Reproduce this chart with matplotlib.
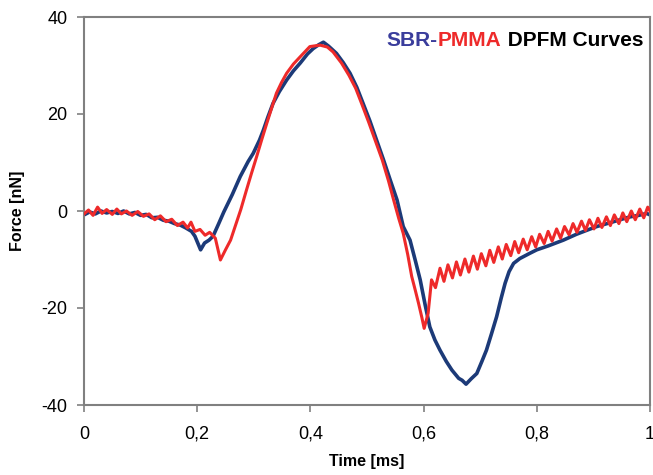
import matplotlib
matplotlib.use("Agg")
import matplotlib.pyplot as plt
from matplotlib.offsetbox import TextArea, HPacker, AnchoredOffsetbox

plt.rcParams['font.family'] = ['Liberation Sans', 'DejaVu Sans']

# SBR (blue) curve: time [ms], force [nN]
sbr_t = [0.000, 0.010, 0.020, 0.030, 0.040, 0.050, 0.060, 0.070, 0.080, 0.090,
         0.100, 0.110, 0.120, 0.130, 0.140, 0.150, 0.160, 0.170, 0.180, 0.190,
         0.196, 0.206, 0.213, 0.221, 0.228, 0.238, 0.247, 0.262, 0.276, 0.290,
         0.299, 0.310, 0.317, 0.325, 0.334, 0.345, 0.358, 0.370, 0.382, 0.395,
         0.405, 0.415, 0.423, 0.432, 0.446, 0.458, 0.470, 0.482, 0.493, 0.505,
         0.517, 0.529, 0.541, 0.553, 0.564, 0.576, 0.586, 0.594, 0.603, 0.611,
         0.620, 0.629, 0.640, 0.650, 0.662, 0.668, 0.675, 0.684, 0.694, 0.703,
         0.711, 0.720, 0.729, 0.737, 0.744, 0.751, 0.759, 0.770, 0.788, 0.800,
         0.820, 0.847, 0.870, 0.890, 0.906, 0.930, 0.950, 0.965, 0.980, 0.994,
         1.000]
sbr_f = [-0.8, -0.2, -0.6, 0.0, -0.4, -0.1, -0.5, 0.0, -0.6, -0.3,
         -0.9, -0.7, -1.4, -1.3, -1.9, -2.1, -2.6, -2.9, -3.5, -4.2,
         -5.2, -8.0, -6.6, -6.0, -5.2, -2.6, -0.2, 3.4, 7.1, 10.2,
         11.9, 14.6, 16.7, 19.4, 22.2, 24.6, 27.0, 28.9, 30.5, 32.4,
         33.5, 34.3, 34.8, 34.0, 32.5, 30.6, 28.4, 25.5, 22.2, 18.6,
         14.6, 10.6, 6.4, 2.3, -3.2, -6.0, -10.5, -14.2, -19.5, -23.9,
         -26.6, -28.7, -31.0, -32.8, -34.5, -34.9, -35.7, -34.6, -33.5, -31.0,
         -28.7, -25.3, -21.8, -18.0, -14.9, -12.5, -10.8, -9.8, -8.7, -8.0,
         -7.2, -6.0, -4.8, -3.9, -3.2, -2.4, -1.7, -1.2, -0.9, -0.5,
         -0.8]

# PMMA (red) curve: time [ms], force [nN]
pmma_t = [0.000, 0.008, 0.016, 0.024, 0.032, 0.040, 0.050, 0.058, 0.066, 0.075,
          0.085, 0.095, 0.105, 0.115, 0.125, 0.135, 0.145, 0.155, 0.165, 0.175,
          0.183, 0.189, 0.196, 0.205, 0.214, 0.222, 0.232, 0.241, 0.250, 0.259,
          0.267, 0.277, 0.287, 0.296, 0.305, 0.314, 0.323, 0.332, 0.340, 0.349,
          0.358, 0.370, 0.382, 0.399, 0.417, 0.430, 0.440, 0.455, 0.468, 0.480,
          0.491, 0.503, 0.515, 0.527, 0.538, 0.547, 0.556, 0.564, 0.572, 0.579,
          0.585, 0.591, 0.597, 0.601, 0.608, 0.614, 0.621,
          0.629, 0.636, 0.643, 0.651, 0.658, 0.665, 0.673, 0.680, 0.688, 0.695,
          0.702, 0.710, 0.717, 0.724, 0.732, 0.739, 0.746, 0.754, 0.761, 0.768,
          0.776, 0.783, 0.791, 0.798, 0.805, 0.813, 0.820, 0.827, 0.835, 0.842,
          0.849, 0.857, 0.864, 0.871, 0.879, 0.886, 0.893, 0.901, 0.908, 0.915,
          0.923, 0.930, 0.937, 0.945, 0.952, 0.959, 0.967, 0.974, 0.982, 0.989,
          0.996, 1.000]
pmma_f = [-0.6, 0.2, -0.9, 0.8, -0.5, 0.3, -0.7, 0.4, -0.6, 0.0,
          -0.9, -0.1, -1.1, -0.6, -1.8, -1.0, -2.2, -1.7, -3.0, -2.3,
          -3.5, -2.3, -4.2, -3.8, -5.0, -4.4, -5.6, -10.1, -8.0, -6.0,
          -3.2, 0.3, 4.3, 7.8, 11.2, 14.7, 18.1, 21.4, 24.3, 26.5,
          28.4, 30.3, 31.8, 33.9, 34.2, 33.8, 32.8, 30.5, 28.0, 25.3,
          22.0, 18.3, 14.4, 10.5, 6.2, 2.3, -1.5, -4.6, -9.0, -13.5,
          -16.2, -19.0, -22.0, -24.2, -21.1, -14.2, -15.8,
          -11.8, -14.5, -11.1, -13.8, -10.5, -13.2, -9.9, -12.6, -9.3, -12.0,
          -8.8, -11.3, -8.1, -10.6, -7.4, -9.9, -6.9, -9.2, -6.3, -8.6,
          -5.8, -8.0, -5.3, -7.4, -4.8, -6.7, -4.2, -6.2, -3.7, -5.6,
          -3.2, -4.9, -2.6, -4.4, -2.1, -4.0, -1.8, -3.7, -1.5, -3.4,
          -1.2, -3.0, -0.8, -2.6, -0.4, -2.2, 0.0, -1.8, 0.4, -1.4,
          0.8, 0.0]

x_ticks = [0, 0.2, 0.4, 0.6, 0.8, 1.0]
x_tick_labels = ["0", "0,2", "0,4", "0,6", "0,8", "1"]
y_ticks = [-40, -20, 0, 20, 40]
y_tick_labels = ["-40", "-20", "0", "20", "40"]

blue = "#1c3a78"
red = "#ee2a2a"
title_blue = "#3a3d9c"

fig = plt.figure(figsize=(6.53, 4.75), dpi=100)
ax = fig.add_axes([84 / 653, 1 - 405 / 475, (650 - 84) / 653, (405 - 17) / 475])

ax.plot(sbr_t, sbr_f, color=blue, lw=2.6, solid_joinstyle='round', zorder=2)
ax.plot(pmma_t, pmma_f, color=red, lw=2.2, solid_joinstyle='round', zorder=3)

ax.set_xlim(0, 1)
ax.set_ylim(-40, 40)
ax.set_xticks(x_ticks)
ax.set_xticklabels(x_tick_labels)
ax.set_yticks(y_ticks)
ax.set_yticklabels(y_tick_labels)

for s in ax.spines.values():
    s.set_color("#808080")
    s.set_linewidth(1.5)
ax.tick_params(axis='both', direction='out', length=5, width=1.2, color="#808080",
               labelsize=13, labelcolor="black")
ax.tick_params(axis='x', pad=10)
ax.tick_params(axis='y', pad=7)

ax.set_xlabel("Time [ms]", fontsize=11.5, fontweight='bold', labelpad=8)
ax.set_ylabel("Force [nN]", fontsize=11.5, fontweight='bold', labelpad=12)

props = dict(fontsize=15, fontweight='bold')
parts = [TextArea("SBR-", textprops=dict(color=title_blue, **props)),
         TextArea("PMMA", textprops=dict(color=red, **props)),
         TextArea(" DPFM Curves", textprops=dict(color="black", **props))]
box = HPacker(children=parts, align="baseline", pad=0, sep=0)
anch = AnchoredOffsetbox(loc='upper right', child=box, pad=0.0, frameon=False,
                         bbox_to_anchor=(643 / 653, 1 - 31 / 475),
                         bbox_transform=fig.transFigure, borderpad=0)
ax.add_artist(anch)

fig.savefig("out.png", dpi=100)
